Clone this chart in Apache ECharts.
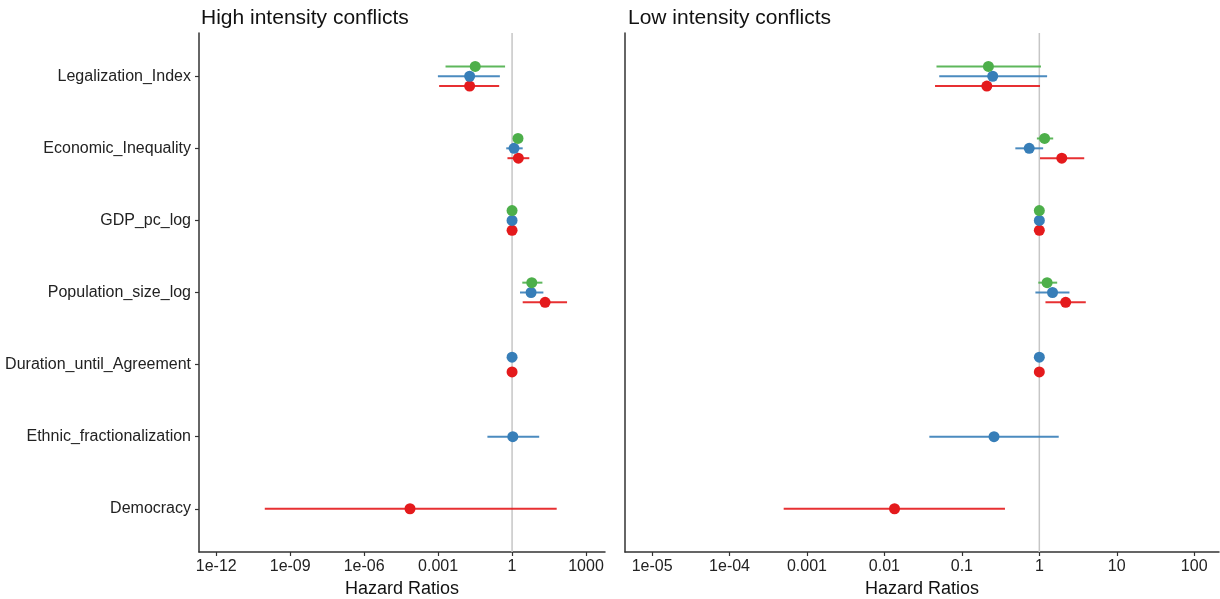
<!DOCTYPE html>
<html>
<head>
<meta charset="utf-8">
<script src="https://cdn.jsdelivr.net/npm/echarts@6/dist/echarts.min.js"></script>
<style>
  html, body { margin: 0; padding: 0; background: #fff; }
  #chart { width: 1220px; height: 599px; }
</style>
</head>
<body>
<div id="chart"></div>
<script>
// categories, top to bottom
const categories = [
  'Legalization_Index', 'Economic_Inequality', 'GDP_pc_log', 'Population_size_log',
  'Duration_until_Agreement', 'Ethnic_fractionalization', 'Democracy'
];
const modelColors = ['#E41A1C', '#377EB8', '#4DAF4A']; // model 1 (red), 2 (blue), 3 (green)

// High intensity conflicts - hazard ratios (estimate, lower, upper)
const highM1Est = [0.019, 1.8, 1, 21.9, 1, null, 0.0000724];
const highM1Lo  = [0.0011, 0.65, 0.96, 2.7, 0.99, null, 9.3e-11];
const highM1Hi  = [0.30, 5.0, 1.04, 170, 1.01, null, 64.6];
const highM2Est = [0.019, 1.2, 1, 5.9, 1, 1.07, null];
const highM2Lo  = [0.00098, 0.58, 0.96, 2.1, 0.99, 0.1, null];
const highM2Hi  = [0.32, 2.7, 1.04, 18.6, 1.01, 12.6, null];
const highM3Est = [0.032, 1.74, 1, 6.3, null, null, null];
const highM3Lo  = [0.002, 1.41, 0.96, 2.6, null, null, null];
const highM3Hi  = [0.52, 2.14, 1.04, 17, null, null, null];

// Low intensity conflicts
const lowM1Est = [0.21, 1.95, 1, 2.19, 1, null, 0.0135];
const lowM1Lo  = [0.045, 1.02, 0.99, 1.2, 0.99, null, 0.0005];
const lowM1Hi  = [1.02, 3.8, 1.01, 3.98, 1.01, null, 0.36];
const lowM2Est = [0.25, 0.74, 1, 1.48, 1, 0.26, null];
const lowM2Lo  = [0.051, 0.49, 0.99, 0.89, 0.99, 0.038, null];
const lowM2Hi  = [1.26, 1.12, 1.01, 2.45, 1.01, 1.78, null];
const lowM3Est = [0.22, 1.17, 1, 1.26, null, null, null];
const lowM3Lo  = [0.047, 0.93, 0.99, 0.97, null, null, null];
const lowM3Hi  = [1.05, 1.51, 1.01, 1.70, null, null, null];

// tick labels
const highTicks = [1e-12, 1e-9, 1e-6, 0.001, 1, 1000];
const highTickLabels = ['1e-12', '1e-09', '1e-06', '0.001', '1', '1000'];
const lowTicks = [1e-5, 1e-4, 0.001, 0.01, 0.1, 1, 10, 100];
const lowTickLabels = ['1e-05', '1e-04', '0.001', '0.01', '0.1', '1', '10', '100'];

const FONT = '"Liberation Sans", Arial, sans-serif';
const nCat = categories.length;
const dodgeWidth = 0.41;
const log10 = Math.log10;

function buildPanel(models, gridIndex) {
  const series = [];
  // dodge positions per category
  const ys = models.map(() => []);
  for (let i = 0; i < nCat; i++) {
    const present = [];
    models.forEach((m, k) => { if (m.est[i] != null) present.push(k); });
    const n = present.length;
    present.forEach((k, j) => {
      ys[k][i] = (nCat - i) + (j - (n - 1) / 2) * dodgeWidth / n;
    });
  }
  // reference line at HR = 1
  series.push({
    type: 'line',
    xAxisIndex: gridIndex, yAxisIndex: gridIndex,
    data: [[log10(1), 0.4], [log10(1), nCat + 0.6]],
    symbol: 'none', silent: true, z: 1,
    lineStyle: { color: '#c6c6c6', width: 1.5 }
  });
  models.forEach((m, k) => {
    const color = modelColors[k];
    const bars = [];
    const pts = [];
    for (let i = 0; i < nCat; i++) {
      if (m.est[i] == null) continue;
      bars.push([log10(m.lo[i]), ys[k][i], log10(m.hi[i])]);
      pts.push([log10(m.est[i]), ys[k][i]]);
    }
    series.push({
      type: 'custom',
      xAxisIndex: gridIndex, yAxisIndex: gridIndex,
      silent: true, z: 2,
      encode: { x: [0, 2], y: 1 },
      data: bars,
      renderItem: function (params, api) {
        const p1 = api.coord([api.value(0), api.value(1)]);
        const p2 = api.coord([api.value(2), api.value(1)]);
        return {
          type: 'line',
          shape: { x1: p1[0], y1: p1[1], x2: p2[0], y2: p2[1] },
          style: { stroke: color, lineWidth: 2, opacity: 0.9 }
        };
      }
    });
    series.push({
      type: 'scatter',
      xAxisIndex: gridIndex, yAxisIndex: gridIndex,
      silent: true, z: 3,
      symbolSize: 11,
      itemStyle: { color: color, opacity: 1 },
      data: pts
    });
  });
  return series;
}

function xAxisFor(gridIndex, ticks, labels, min, max) {
  const logTicks = ticks.map(log10);
  return {
    type: 'value', gridIndex: gridIndex, min: min, max: max,
    name: 'Hazard Ratios', nameLocation: 'middle', nameGap: 21,
    nameTextStyle: { fontFamily: FONT, fontSize: 18, color: '#111' },
    splitLine: { show: false },
    axisLine: { show: true, onZero: false, lineStyle: { color: '#333', width: 1.5 } },
    axisTick: { show: true, length: 4, customValues: logTicks, lineStyle: { color: '#333', width: 1.2 } },
    axisLabel: {
      customValues: logTicks, margin: 7,
      fontFamily: FONT, fontSize: 16, color: '#222',
      formatter: function (v) {
        let best = 0;
        logTicks.forEach((t, i) => { if (Math.abs(t - v) < Math.abs(logTicks[best] - v)) best = i; });
        return labels[best];
      }
    }
  };
}

function yAxisFor(gridIndex, showLabels) {
  const vals = categories.map((c, i) => nCat - i);
  return {
    type: 'value', gridIndex: gridIndex, min: 0.4, max: nCat + 0.6,
    splitLine: { show: false },
    axisLine: { show: true, onZero: false, lineStyle: { color: '#333', width: 1.5 } },
    axisTick: { show: showLabels, length: 4, customValues: vals, lineStyle: { color: '#333', width: 1.2 } },
    axisLabel: {
      show: showLabels, customValues: vals, margin: 8,
      fontFamily: FONT, fontSize: 16, color: '#222',
      formatter: function (v) { return categories[nCat - Math.round(v)]; }
    }
  };
}

const highModels = [
  { est: highM1Est, lo: highM1Lo, hi: highM1Hi },
  { est: highM2Est, lo: highM2Lo, hi: highM2Hi },
  { est: highM3Est, lo: highM3Lo, hi: highM3Hi }
];
const lowModels = [
  { est: lowM1Est, lo: lowM1Lo, hi: lowM1Hi },
  { est: lowM2Est, lo: lowM2Lo, hi: lowM2Hi },
  { est: lowM3Est, lo: lowM3Lo, hi: lowM3Hi }
];

const chart = echarts.init(document.getElementById('chart'), null, { renderer: 'canvas' });
chart.setOption({
  animation: false,
  backgroundColor: '#fff',
  title: [
    { text: 'High intensity conflicts', left: 196, top: 3,
      textStyle: { fontFamily: FONT, fontSize: 21, fontWeight: 'normal', color: '#111' } },
    { text: 'Low intensity conflicts', left: 623, top: 3,
      textStyle: { fontFamily: FONT, fontSize: 21, fontWeight: 'normal', color: '#111' } }
  ],
  grid: [
    { left: 199, top: 33, width: 406, height: 519, outerBoundsMode: 'none', containLabel: false },
    { left: 625, top: 33, width: 594, height: 519, outerBoundsMode: 'none', containLabel: false }
  ],
  xAxis: [
    xAxisFor(0, highTicks, highTickLabels, -12.70, 3.77),
    xAxisFor(1, lowTicks, lowTickLabels, -5.35, 2.32)
  ],
  yAxis: [yAxisFor(0, true), yAxisFor(1, false)],
  series: buildPanel(highModels, 0).concat(buildPanel(lowModels, 1))
});
</script>
</body>
</html>
